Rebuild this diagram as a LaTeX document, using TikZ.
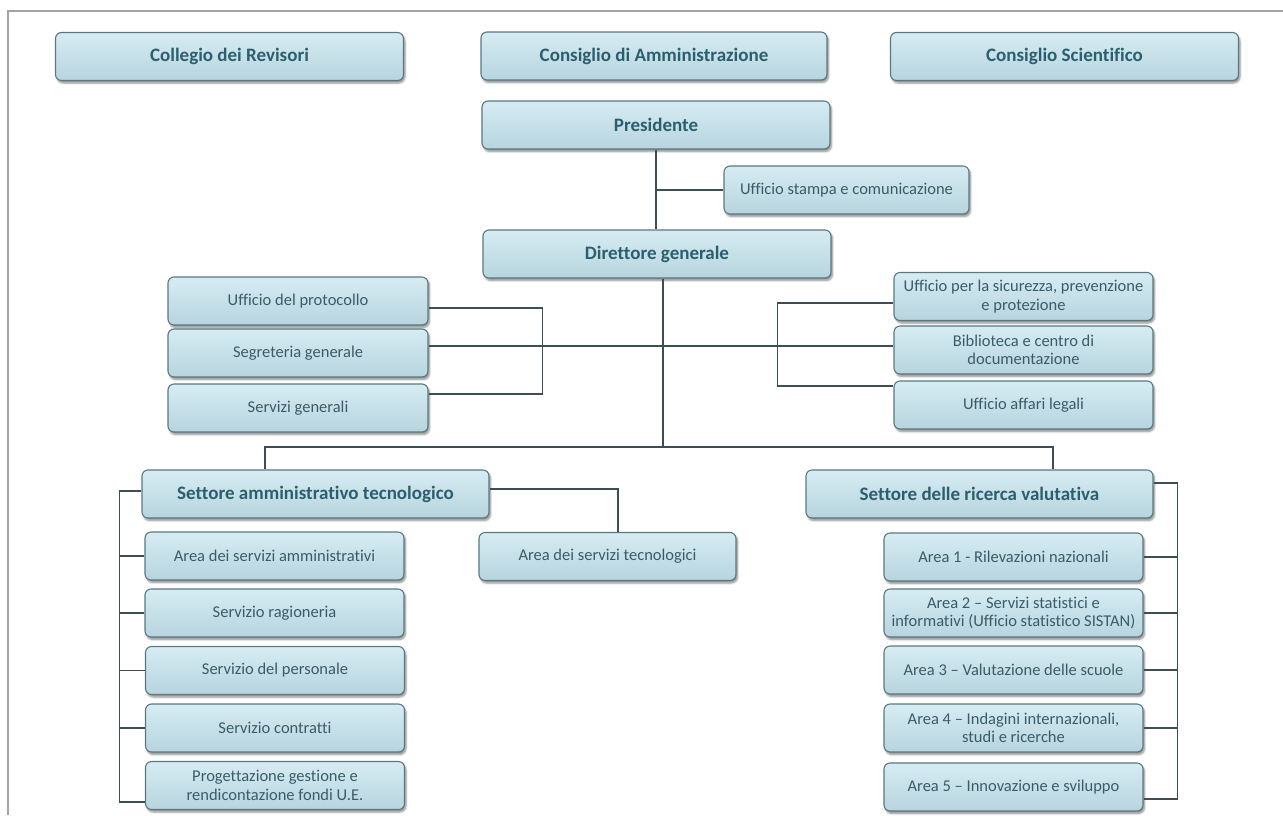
\documentclass[tikz,border=0pt]{standalone}
\usepackage{fontspec}
\setmainfont{Carlito}[Ligatures=CommonOff]
\usetikzlibrary{shadows.blur}
\definecolor{boxtop}{HTML}{D6ECF3}
\definecolor{boxbot}{HTML}{B7D4DE}
\definecolor{boxline}{HTML}{5B7880}
\definecolor{headtext}{HTML}{2C5F6E}
\definecolor{unittext}{HTML}{3A5C68}
\definecolor{wire}{HTML}{3E4E55}
\definecolor{frame}{HTML}{A3A3A3}
\tikzset{
  box/.style={draw=boxline, line width=1.1pt, rounded corners=6pt,
    top color=boxtop, bottom color=boxbot, align=center, inner sep=0pt,
    blur shadow={shadow xshift=1.5pt, shadow yshift=-2.5pt, shadow opacity=45, shadow blur steps=5}},
  head/.style={box, minimum width=348pt, minimum height=48pt, text=headtext,
    font={\fontsize{19}{22}\selectfont\bfseries}},
  unit/.style={box, minimum width=259pt, minimum height=48pt, text=unittext,
    font={\fontsize{16.5}{18.5}\selectfont}},
  wire/.style={draw=wire, line width=1.1pt}
}
\begin{document}
\begin{tikzpicture}[x=1pt,y=-1pt]
\useasboundingbox (0,0) rectangle (1283,815);
% frame
\draw[frame, line width=1.8pt] (1283,11) -- (8,11) -- (8,815);
% top
\node[head] (rev) at (229.5,56.5) {Collegio dei Revisori};
\node[head, minimum width=346pt] (cda) at (654,56) {Consiglio di Amministrazione};
\node[head] (csc) at (1064.5,56.5) {Consiglio Scientifico};
\node[head] (pres) at (656,125) {Presidente};
\node[unit, minimum width=245pt] (stampa) at (846.5,190) {Ufficio stampa e comunicazione};
\node[head] (dir) at (657,254) {Direttore generale};
% staff left
\node[unit, minimum width=260pt] (prot) at (298,301) {Ufficio del protocollo};
\node[unit, minimum width=260pt] (seg) at (298,353) {Segreteria generale};
\node[unit, minimum width=260pt] (sgen) at (298,408) {Servizi generali};
% staff right
\node[unit] (sic) at (1023.5,296.5) {Ufficio per la sicurezza, prevenzione\\e protezione};
\node[unit] (bib) at (1023.5,350) {Biblioteca e centro di\\documentazione};
\node[unit] (leg) at (1023.5,405) {Ufficio affari legali};
% sectors
\node[head, minimum width=347pt] (sam) at (315.5,494) {Settore amministrativo tecnologico};
\node[head, minimum width=347pt] (srv) at (979.5,494) {Settore delle ricerca valutativa};
\node[unit, minimum width=257pt] (ast) at (607.5,556.5) {Area dei servizi tecnologici};
\node[unit] (aam) at (274.5,556) {Area dei servizi amministrativi};
\node[unit] (rag) at (274.5,613) {Servizio ragioneria};
\node[unit] (pers) at (275,670.5) {Servizio del personale};
\node[unit] (contr) at (275,728) {Servizio contratti};
\node[unit] (prog) at (275,785.5) {Progettazione gestione e\\rendicontazione fondi U.E.};
\node[unit] (a1) at (1013.5,557) {Area 1 - Rilevazioni nazionali};
\node[unit] (a2) at (1013.5,613) {Area 2 – Servizi statistici e\\informativi (Ufficio statistico SISTAN)};
\node[unit] (a3) at (1013.5,670) {Area 3 – Valutazione delle scuole};
\node[unit] (a4) at (1013.5,728) {Area 4 – Indagini internazionali,\\studi e ricerche};
\node[unit] (a5) at (1013.5,787) {Area 5 – Innovazione e sviluppo};
% lines
\coordinate (bus) at (663,447);
\draw[wire] (pres.south) -- (pres.south |- dir.north);
\draw[wire] (stampa.west) -- (stampa.west -| pres.south);
\draw[wire] (bus |- dir.south) -- (bus);
\draw[wire] ([xshift=-50.5pt]sam.north) |- (bus) -| ([xshift=73.5pt]srv.north);
\draw[wire] ([yshift=-7pt]prot.east) -- ++(114,0) |- ([yshift=14pt]sgen.east);
\draw[wire] ([yshift=7pt]seg.east) -- ([yshift=7pt]seg.east -| bib.west);
\draw[wire] ([yshift=-6.5pt]sic.west) -- ++(-116,0) |- ([yshift=19pt]leg.west);
\draw[wire] ([yshift=5pt]sam.east) -| ([xshift=10.5pt]ast.north);
\draw[wire] ([yshift=3pt]sam.west) -- ++(-22,0) coordinate (lb) |- ([yshift=-16.5pt]prog.west);
\foreach \n in {aam,rag,pers,contr}
  \draw[wire] (\n.west) -- (\n.west -| lb);
\draw[wire] ([yshift=11pt]srv.east) -- ++(24,0) coordinate (rb) |- ([yshift=-12pt]a5.east);
\foreach \n in {a1,a2,a3,a4}
  \draw[wire] (\n.east) -- (\n.east -| rb);
\end{tikzpicture}
\end{document}
